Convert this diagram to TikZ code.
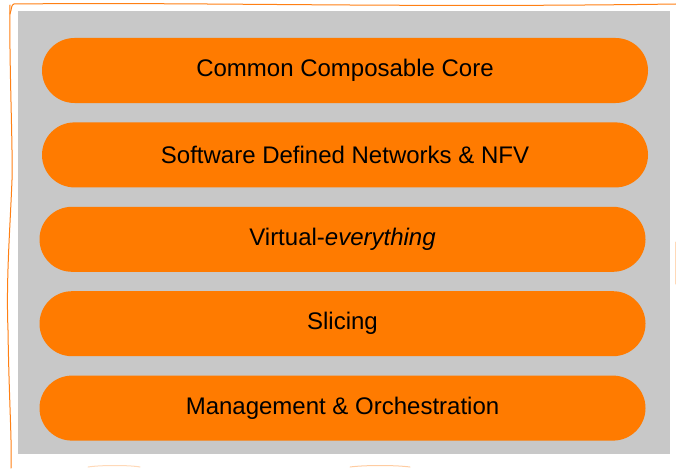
\documentclass[tikz,border=0pt]{standalone}
\usepackage{fontspec}
\setmainfont{Liberation Sans}
\usetikzlibrary{positioning}

\definecolor{layerorange}{RGB}{255,123,0}
\definecolor{panelgray}{RGB}{200,200,200}
\definecolor{sketchorange}{RGB}{255,128,20}

\tikzset{
    layer/.style={fill=layerorange, draw=none, minimum width=606pt, minimum height=65pt,
        rounded corners=32.5pt, font=\fontsize{24}{28}\selectfont, text=black},
    sketch/.style={draw=sketchorange, line width=1pt, line cap=round}
}

\begin{document}
\begin{tikzpicture}[x=1pt, y=-1pt, node distance=19pt]
    \useasboundingbox (0,0) rectangle (676,468);
    % hand drawn frame
    \draw[sketch] (10,14) .. controls (12,8) and (11,5) .. (14,4) .. controls (200,2) and (400,8) .. (676,4);
    \draw[sketch] (10,5) .. controls (9,60) and (13,150) .. (12,180)
        .. controls (10,230) and (6,280) .. (8,330) .. controls (9,400) and (12,440) .. (11,468);
    \draw[sketch, draw opacity=0.3] (675,242) -- (675,284);
    \draw[sketch, draw opacity=0.3] (88,467) .. controls (100,465) and (130,465) .. (140,467);
    \draw[sketch, draw opacity=0.4] (350,467) .. controls (365,465) and (395,465) .. (410,467);
    % gray panel
    \fill[panelgray] (18,11) rectangle (670,454);
    % layers
    \node[layer] (core) at (345,70.5) {Common Composable Core};
    \node[layer, below=of core] (sdn) {Software Defined Networks \& NFV};
    \node[layer, below=of sdn, xshift=-2.5pt] (virt) {Virtual-\textit{everything}};
    \node[layer, below=of virt] (slice) {Slicing};
    \node[layer, below=of slice] (mano) {Management \& Orchestration};
\end{tikzpicture}
\end{document}
